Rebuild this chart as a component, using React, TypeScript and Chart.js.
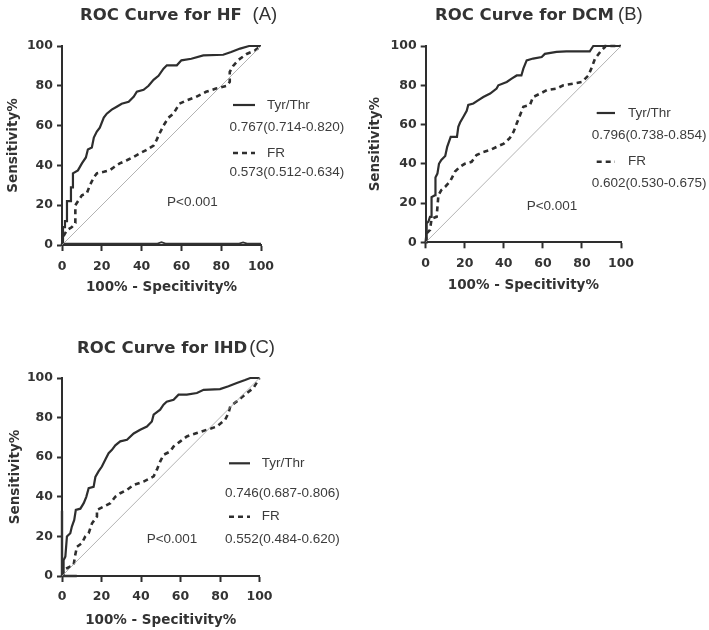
import React, { useEffect, useRef } from "react";
import { Chart, registerables } from "chart.js";

Chart.register(...registerables);

type Pt = [number, number];

// ---------- DATA ----------
const axisTicks = [0, 20, 40, 60, 80, 100];
const chanceLine: Pt[] = [[0, 0], [100, 100]];

const hfTyrThr: Pt[] = [
  [0, 0], [0.5, 0], [0.5, 9], [1.5, 9], [1.5, 12], [2.5, 12], [2.5, 22], [4.5, 22], [4.5, 29], [5.5, 29],
  [5.5, 36], [8, 37.5], [10, 41], [12, 44], [13, 48], [15, 49], [16, 54], [17.5, 57], [19, 59], [21, 64],
  [22.5, 66], [25, 68], [27.5, 69.5], [30, 71], [33.5, 72], [36, 74.5], [37.6, 77], [41, 78], [43.5, 80],
  [46, 83], [48.5, 85], [51, 88.6], [52.7, 90.3], [57.7, 90.3], [60, 92.8], [65, 93.6], [71, 95.3],
  [81, 95.6], [85, 97], [89.5, 98.7], [94, 100], [100, 100],
];
const hfFR: Pt[] = [
  [0, 0], [0.5, 4], [2.5, 7.5], [5, 9], [6.7, 11], [6.7, 20], [8.4, 22.6], [10, 25], [12.5, 26], [14, 30],
  [16, 34], [17.5, 36], [21, 36.8], [24, 37.6], [26.4, 39.3], [29, 41], [32.6, 42.6], [36, 44.3], [39, 46],
  [42.3, 47.7], [46, 50], [47.5, 52.7], [49, 56], [51, 60], [53.5, 64], [56, 66], [59, 71], [62.7, 72.7],
  [67.4, 74.4], [72.4, 77], [77.4, 78.6], [82.8, 80], [84.3, 82], [84.3, 87], [86, 90], [88.6, 93],
  [92.8, 96], [97, 97.8], [100, 100],
];
const hfBaseline: Pt[] = [
  [0, 0.7], [48, 0.7], [50, 1.4], [52, 0.7], [89, 0.7], [91, 1.3], [93, 0.7], [100, 0.7],
];

const dcmTyrThr: Pt[] = [
  [0, 0], [0.5, 0], [0.5, 9.7], [1.4, 10.5], [2.2, 13], [3, 13], [3, 23], [4.8, 24], [5, 33], [6, 35],
  [6.8, 40], [8, 42], [10, 44], [11, 48.6], [12.8, 53.7], [16, 53.7], [16.7, 58.8], [17.6, 61], [19.3, 64],
  [21, 67], [21.8, 70], [24.4, 70.7], [27, 72.4], [29.5, 74], [33, 75.8], [36.3, 78.3], [37.2, 80],
  [41.5, 81.7], [44, 83.4], [46.6, 85], [49, 85], [50, 88.5], [51.7, 92.7], [55, 93.6], [59.4, 94.4],
  [61, 96], [67, 97], [72, 97.3], [84, 97.3], [85.8, 100], [100, 100],
];
const dcmFR: Pt[] = [
  [0, 0], [0.5, 4.6], [2.2, 6.3], [3, 12], [5.6, 13], [6.5, 24], [8, 26.6], [10, 28.3], [12.5, 31],
  [15, 36], [17.6, 38.5], [20, 40], [23.5, 41], [26, 44.4], [29.5, 46], [33, 47], [36.3, 48.6], [40, 50.3],
  [43, 53], [45, 56.3], [46.6, 60.5], [48.3, 64.7], [50, 69], [53.4, 70], [55, 74], [58.7, 75.8], [62, 77.5],
  [67, 78.3], [70.5, 80], [75.6, 80.8], [80, 81.7], [83.3, 85], [85, 89], [86.7, 93.6], [90, 97.8],
  [91.8, 99.5], [92, 100], [100, 100],
];

const ihdTyrThr: Pt[] = [
  [0, 0], [0.8, 0], [0.8, 8], [1.7, 9.8], [2.5, 20], [4.2, 21.6], [5, 25], [6.2, 28.3], [7, 33.4],
  [9.3, 34], [11, 36.8], [12.3, 40], [13.5, 44.4], [16, 45], [16.9, 50], [18.5, 52.8], [20.2, 55.3],
  [21.9, 58.7], [23.6, 62], [25.3, 63.7], [27, 66], [29.5, 68], [32.9, 68.8], [36.3, 72], [39.6, 73.9],
  [43, 75.5], [45.5, 78], [46.4, 81.5], [49.7, 84], [51.4, 86.5], [53, 88], [56.5, 89], [59, 91.6],
  [63.2, 91.6], [68.3, 92.4], [71.7, 94], [80, 94.4], [84.3, 95.8], [88.5, 97.5], [92.7, 99], [95.3, 100],
  [100, 100],
];
const ihdFR: Pt[] = [
  [0, 0], [0.8, 3], [2.5, 3.9], [5.9, 5.6], [6.7, 10.6], [7.6, 14.8], [10, 16.5], [11.8, 20], [13.5, 21.6],
  [15.2, 26.6], [17.7, 30], [17.7, 33.4], [21, 35], [24.5, 36.8], [27, 40], [29.5, 41.8], [32.9, 43.5],
  [36.3, 46], [41.3, 47.7], [46.4, 50.3], [48, 53.6], [49.7, 57.8], [51.4, 61.2], [54.8, 62.9], [56.5, 65.4],
  [59.9, 68], [63.2, 70.5], [68.3, 72.2], [73.4, 73.9], [78.4, 75.5], [82.6, 78.9], [84.3, 82.3],
  [85.2, 85.7], [88.5, 88.2], [93.6, 92.4], [97, 95], [100, 100],
];
const ihdAxisTrace: Pt[] = [[0, 33], [0, 0], [7.5, 0]];

const seriesNames = ["Tyr/Thr", "FR"];
const panelTitles = ["ROC Curve for HF", "ROC Curve for DCM", "ROC Curve for IHD"];
const panelTags = ["(A)", "(B)", "(C)"];
const tyrThrAuc = ["0.767(0.714-0.820)", "0.796(0.738-0.854)", "0.746(0.687-0.806)"];
const frAuc = ["0.573(0.512-0.634)", "0.602(0.530-0.675)", "0.552(0.484-0.620)"];
const pValues = ["P<0.001", "P<0.001", "P<0.001"];
const xAxisTitle = "100% - Specitivity%";
const yAxisTitle = "Sensitivity%";

const tyrThrSeries = [hfTyrThr, dcmTyrThr, ihdTyrThr];
const frSeries = [hfFR, dcmFR, ihdFR];
const extraSeries: Pt[][][] = [[hfBaseline], [], [ihdAxisTrace]];

// ---------- STYLE / LAYOUT ----------
const BOLD = "'DejaVu Sans', 'Liberation Sans', Arial, sans-serif";
const REG = "'Liberation Sans', Arial, sans-serif";
const INK = "#2e2e2e";
const TXT = "#333333";
const LEG = "#3c3c3c";

type Layout = {
  left: number; top: number; width: number; height: number;
  area: { left: number; right: number; top: number; bottom: number };
  titleX: number; titleY: number; tagX: number;
  xTitlePad: number; yTitlePad: number; xTickPad: number;
  lg: { x1: number; x2: number; nameX: number; valX: number; y1: number; y2: number; y3: number; y4: number; pX: number; pY: number };
};

const PANELS: Layout[] = [
  {
    left: 0, top: 0, width: 360, height: 300,
    area: { left: 62, right: 261, top: 46, bottom: 245 },
    titleX: 80, titleY: 20, tagX: 252.5,
    xTitlePad: 4.4, yTitlePad: 4.9, xTickPad: 8,
    lg: { x1: 233, x2: 255, nameX: 267, valX: 229.5, y1: 105, y2: 127, y3: 153, y4: 172, pX: 167, pY: 202 },
  },
  {
    left: 360, top: 0, width: 349, height: 300,
    area: { left: 65.7, right: 261, top: 46, bottom: 242.3 },
    titleX: 75, titleY: 20, tagX: 258,
    xTitlePad: 6.9, yTitlePad: 6.9, xTickPad: 7.5,
    lg: { x1: 236.7, x2: 255, nameX: 268, valX: 231.7, y1: 113, y2: 135, y3: 161.7, y4: 183.3, pX: 166.7, pY: 206.7 },
  },
  {
    left: 0, top: 300, width: 360, height: 330,
    area: { left: 62, right: 259.5, top: 78, bottom: 276 },
    titleX: 77, titleY: 52.7, tagX: 249.3,
    xTitlePad: 1.9, yTitlePad: 6.9, xTickPad: 7,
    lg: { x1: 229, x2: 250, nameX: 261.7, valX: 225, y1: 163.3, y2: 193.3, y3: 216.7, y4: 239.3, pX: 146.7, pY: 239.3 },
  },
];

const toPts = (arr: Pt[]) => arr.map(([x, y]) => ({ x, y }));

function Panel({ idx }: { idx: number }) {
  const ref = useRef<HTMLCanvasElement | null>(null);
  const L = PANELS[idx];

  useEffect(() => {
    const canvas = ref.current;
    if (!canvas) return;

    const decor = {
      id: "decor" + idx,
      afterDraw(chart: any) {
        const ctx = chart.ctx as CanvasRenderingContext2D;
        ctx.save();
        ctx.fillStyle = TXT;
        ctx.textBaseline = "alphabetic";
        ctx.textAlign = "left";
        ctx.font = `bold 16.5px ${BOLD}`;
        ctx.fillText(panelTitles[idx], L.titleX, L.titleY);
        ctx.font = `18.5px ${REG}`;
        ctx.fillText(panelTags[idx], L.tagX, L.titleY);

        const g = L.lg;
        ctx.strokeStyle = INK;
        ctx.lineWidth = 2.2;
        ctx.setLineDash([]);
        ctx.beginPath();
        ctx.moveTo(g.x1, g.y1);
        ctx.lineTo(g.x2, g.y1);
        ctx.stroke();
        ctx.lineWidth = 2.6;
        ctx.setLineDash([5, 4]);
        ctx.beginPath();
        ctx.moveTo(g.x1, g.y3);
        ctx.lineTo(g.x2, g.y3);
        ctx.stroke();
        ctx.setLineDash([]);

        ctx.fillStyle = LEG;
        ctx.font = `13.5px ${REG}`;
        ctx.textBaseline = "middle";
        ctx.fillText(seriesNames[0], g.nameX, g.y1);
        ctx.fillText(tyrThrAuc[idx], g.valX, g.y2);
        ctx.fillText(seriesNames[1], g.nameX, g.y3);
        ctx.fillText(frAuc[idx], g.valX, g.y4);
        ctx.fillText(pValues[idx], g.pX, g.pY);
        ctx.restore();
      },
    };

    const tickFont = { family: BOLD, weight: "bold" as const, size: 12.5 };
    const titleFont = { family: BOLD, weight: "bold" as const, size: 13.5, lineHeight: 1.2 };

    const datasets: any[] = [
      {
        label: "chance",
        data: toPts(chanceLine),
        borderColor: "#a0a0a0",
        borderWidth: 0.8,
        pointRadius: 0,
        showLine: true,
      },
      ...extraSeries[idx].map((s) => ({
        label: "trace",
        data: toPts(s),
        borderColor: "#333333",
        borderWidth: idx === 0 ? 1.6 : 2.4,
        pointRadius: 0,
        showLine: true,
      })),
      {
        label: seriesNames[1],
        data: toPts(frSeries[idx]),
        borderColor: INK,
        borderWidth: 2.6,
        borderDash: [5, 4],
        pointRadius: 0,
        showLine: true,
      },
      {
        label: seriesNames[0],
        data: toPts(tyrThrSeries[idx]),
        borderColor: INK,
        borderWidth: 2.2,
        pointRadius: 0,
        showLine: true,
      },
    ];

    const chart = new Chart(canvas, {
      type: "scatter",
      data: { datasets },
      plugins: [decor],
      options: {
        responsive: false,
        maintainAspectRatio: false,
        animation: false,
        devicePixelRatio: 1,
        clip: false as any,
        layout: { padding: { left: 0, top: L.area.top, right: L.width - L.area.right, bottom: 0 } },
        plugins: { legend: { display: false }, tooltip: { enabled: false }, title: { display: false } },
        elements: { line: { tension: 0, fill: false, borderCapStyle: "butt", borderJoinStyle: "miter" } },
        scales: {
          x: {
            type: "linear",
            min: 0,
            max: 100,
            afterBuildTicks: (s: any) => { s.ticks = axisTicks.map((v) => ({ value: v })); },
            afterFit: (s: any) => { s.height = L.height - L.area.bottom; },
            grid: { drawOnChartArea: false, drawTicks: true, tickLength: 6, tickWidth: 2, tickColor: INK, color: INK },
            border: { display: true, color: INK, width: 2 },
            ticks: { font: tickFont, color: TXT, padding: L.xTickPad, maxRotation: 0, autoSkip: false },
            title: { display: true, text: xAxisTitle, font: titleFont, color: TXT, padding: { top: 0, bottom: L.xTitlePad } },
          },
          y: {
            type: "linear",
            min: 0,
            max: 100,
            afterBuildTicks: (s: any) => { s.ticks = axisTicks.map((v) => ({ value: v })); },
            afterFit: (s: any) => { s.width = L.area.left; },
            grid: { drawOnChartArea: false, drawTicks: true, tickLength: 5, tickWidth: 2, tickColor: INK, color: INK },
            border: { display: true, color: INK, width: 2 },
            ticks: { font: tickFont, color: TXT, padding: 4, autoSkip: false },
            title: { display: true, text: yAxisTitle, font: titleFont, color: TXT, padding: { top: L.yTitlePad, bottom: 0 } },
          },
        },
      } as any,
    });
    return () => chart.destroy();
  }, [idx]);

  return (
    <canvas
      ref={ref}
      width={L.width}
      height={L.height}
      style={{ position: "absolute", left: L.left, top: L.top, width: L.width, height: L.height }}
    />
  );
}

export default function App() {
  return (
    <div style={{ position: "fixed", left: 0, top: 0, width: 709, height: 630, background: "#ffffff", overflow: "hidden" }}>
      <Panel idx={0} />
      <Panel idx={1} />
      <Panel idx={2} />
    </div>
  );
}
